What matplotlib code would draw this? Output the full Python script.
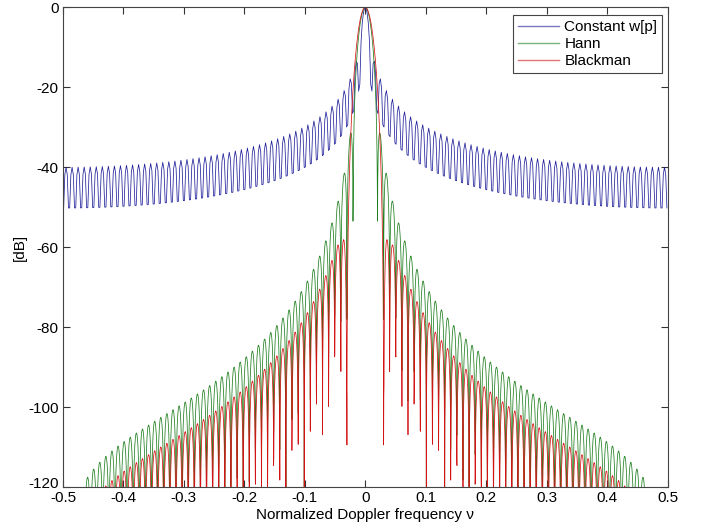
import numpy as np
import matplotlib.pyplot as plt
import matplotlib.transforms as mtransforms

plt.rcParams['font.family'] = ['Liberation Sans', 'DejaVu Sans']

# pulse count and the three slow-time weightings w[p]
N = 100
names = ["Constant w[p]", "Hann", "Blackman"]
colors = ["#20209a", "#1f7f1f", "#d41414"]
windows = [np.ones(N), np.hanning(N), np.blackman(N)]

# normalized Doppler grids: coarse one for the constant weighting,
# fine one for the tapered weightings
nu_coarse = np.arange(-0.499, 0.5, 0.002)
nu_fine = np.linspace(-0.5, 0.5, 3001)
grids = [nu_coarse, nu_fine, nu_fine]
p = np.arange(N)

fig = plt.figure(figsize=(7.09, 5.27), dpi=100)
ax = fig.add_axes([0.0889, 0.0759, 0.8526, 0.9102])

for name, c, w, nu in zip(names, colors, windows, grids):
    W = np.abs(np.exp(-2j * np.pi * np.outer(nu, p)) @ w) / w.sum()
    ax.plot(nu, 20 * np.log10(W + 1e-15), color=c, linewidth=0.55, label=name)

ax.set_xlim(-0.5, 0.5)
ax.set_ylim(-120, 0)
ax.set_xticks(np.arange(-0.5, 0.51, 0.1))
ax.set_xticklabels(["-0.5", "-0.4", "-0.3", "-0.2", "-0.1", "0",
                    "0.1", "0.2", "0.3", "0.4", "0.5"])
ax.set_yticks(np.arange(-120, 1, 20))
ax.set_yticklabels(["-120", "-100", "-80", "-60", "-40", "-20", "0"])
ax.tick_params(direction='in', top=True, right=True, length=5, width=0.8,
               labelsize=11, colors='#333333', labelcolor='black', pad=3)
for s in ax.spines.values():
    s.set_color('#444444')
    s.set_linewidth(0.8)

# lift the lowest y label a little, as in the original
lab = ax.get_yticklabels()[0]
lab.set_transform(lab.get_transform() +
                  mtransforms.ScaledTranslation(0, 5 / 100, fig.dpi_scale_trans))

ax.set_xlabel("Normalized Doppler frequency ν", fontsize=11, labelpad=2)
ax.set_ylabel("[dB]", fontsize=11, labelpad=1)

leg = ax.legend(loc='upper right', bbox_to_anchor=(0.991, 0.983),
                borderaxespad=0, fontsize=11, fancybox=False,
                framealpha=1, edgecolor='#444444',
                handlelength=2.7, labelspacing=0.2, borderpad=0.3,
                handletextpad=0.35)
leg.get_frame().set_linewidth(0.8)
for h in leg.get_lines():
    h.set_linewidth(1.0)
    h.set_alpha(0.6)

fig.savefig("out.png", dpi=100)
